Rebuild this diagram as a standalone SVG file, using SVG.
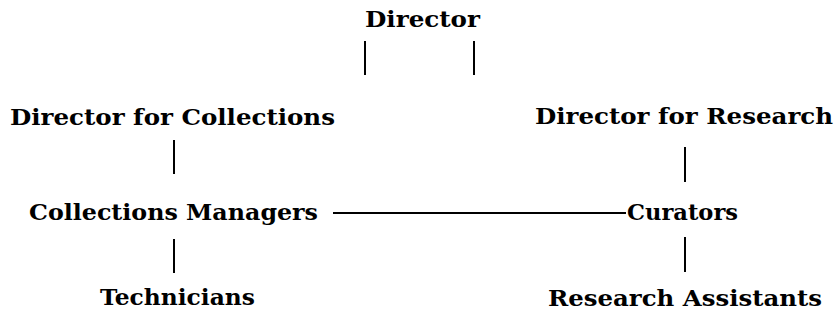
<svg xmlns="http://www.w3.org/2000/svg" width="838" height="320" viewBox="0 0 838 320">
  <style>
    .lbl { font-family: "DejaVu Serif", "Liberation Serif", serif; font-weight: bold; font-size: 23px; fill: #000; }
    .conn { stroke: #000; stroke-width: 2; fill: none; }
  </style>
  <rect width="838" height="320" fill="#fff"/>
  <g id="connectors">
    <line class="conn" x1="365" y1="41" x2="365" y2="75"/>
    <line class="conn" x1="474" y1="41" x2="474" y2="75"/>
    <line class="conn" x1="174" y1="140" x2="174" y2="174"/>
    <line class="conn" x1="685" y1="147" x2="685" y2="182"/>
    <line class="conn" x1="333" y1="213" x2="626" y2="213" stroke-width="1.6"/>
    <line class="conn" x1="174" y1="239" x2="174" y2="273"/>
    <line class="conn" x1="685" y1="237" x2="685" y2="272"/>
  </g>
  <g id="director"><text class="lbl" x="365" y="27" textLength="115" lengthAdjust="spacingAndGlyphs">Director</text></g>
  <g id="director-collections"><text class="lbl" x="10" y="125" textLength="325" lengthAdjust="spacingAndGlyphs">Director for Collections</text></g>
  <g id="director-research"><text class="lbl" x="535" y="124" textLength="298" lengthAdjust="spacingAndGlyphs">Director for Research</text></g>
  <g id="collections-managers"><text class="lbl" x="29" y="220" textLength="289" lengthAdjust="spacingAndGlyphs">Collections Managers</text></g>
  <g id="curators"><text class="lbl" x="627" y="220" textLength="111" lengthAdjust="spacingAndGlyphs">Curators</text></g>
  <g id="technicians"><text class="lbl" x="100" y="305" textLength="155" lengthAdjust="spacingAndGlyphs">Technicians</text></g>
  <g id="research-assistants"><text class="lbl" x="548" y="306" textLength="274" lengthAdjust="spacingAndGlyphs">Research Assistants</text></g>
</svg>
